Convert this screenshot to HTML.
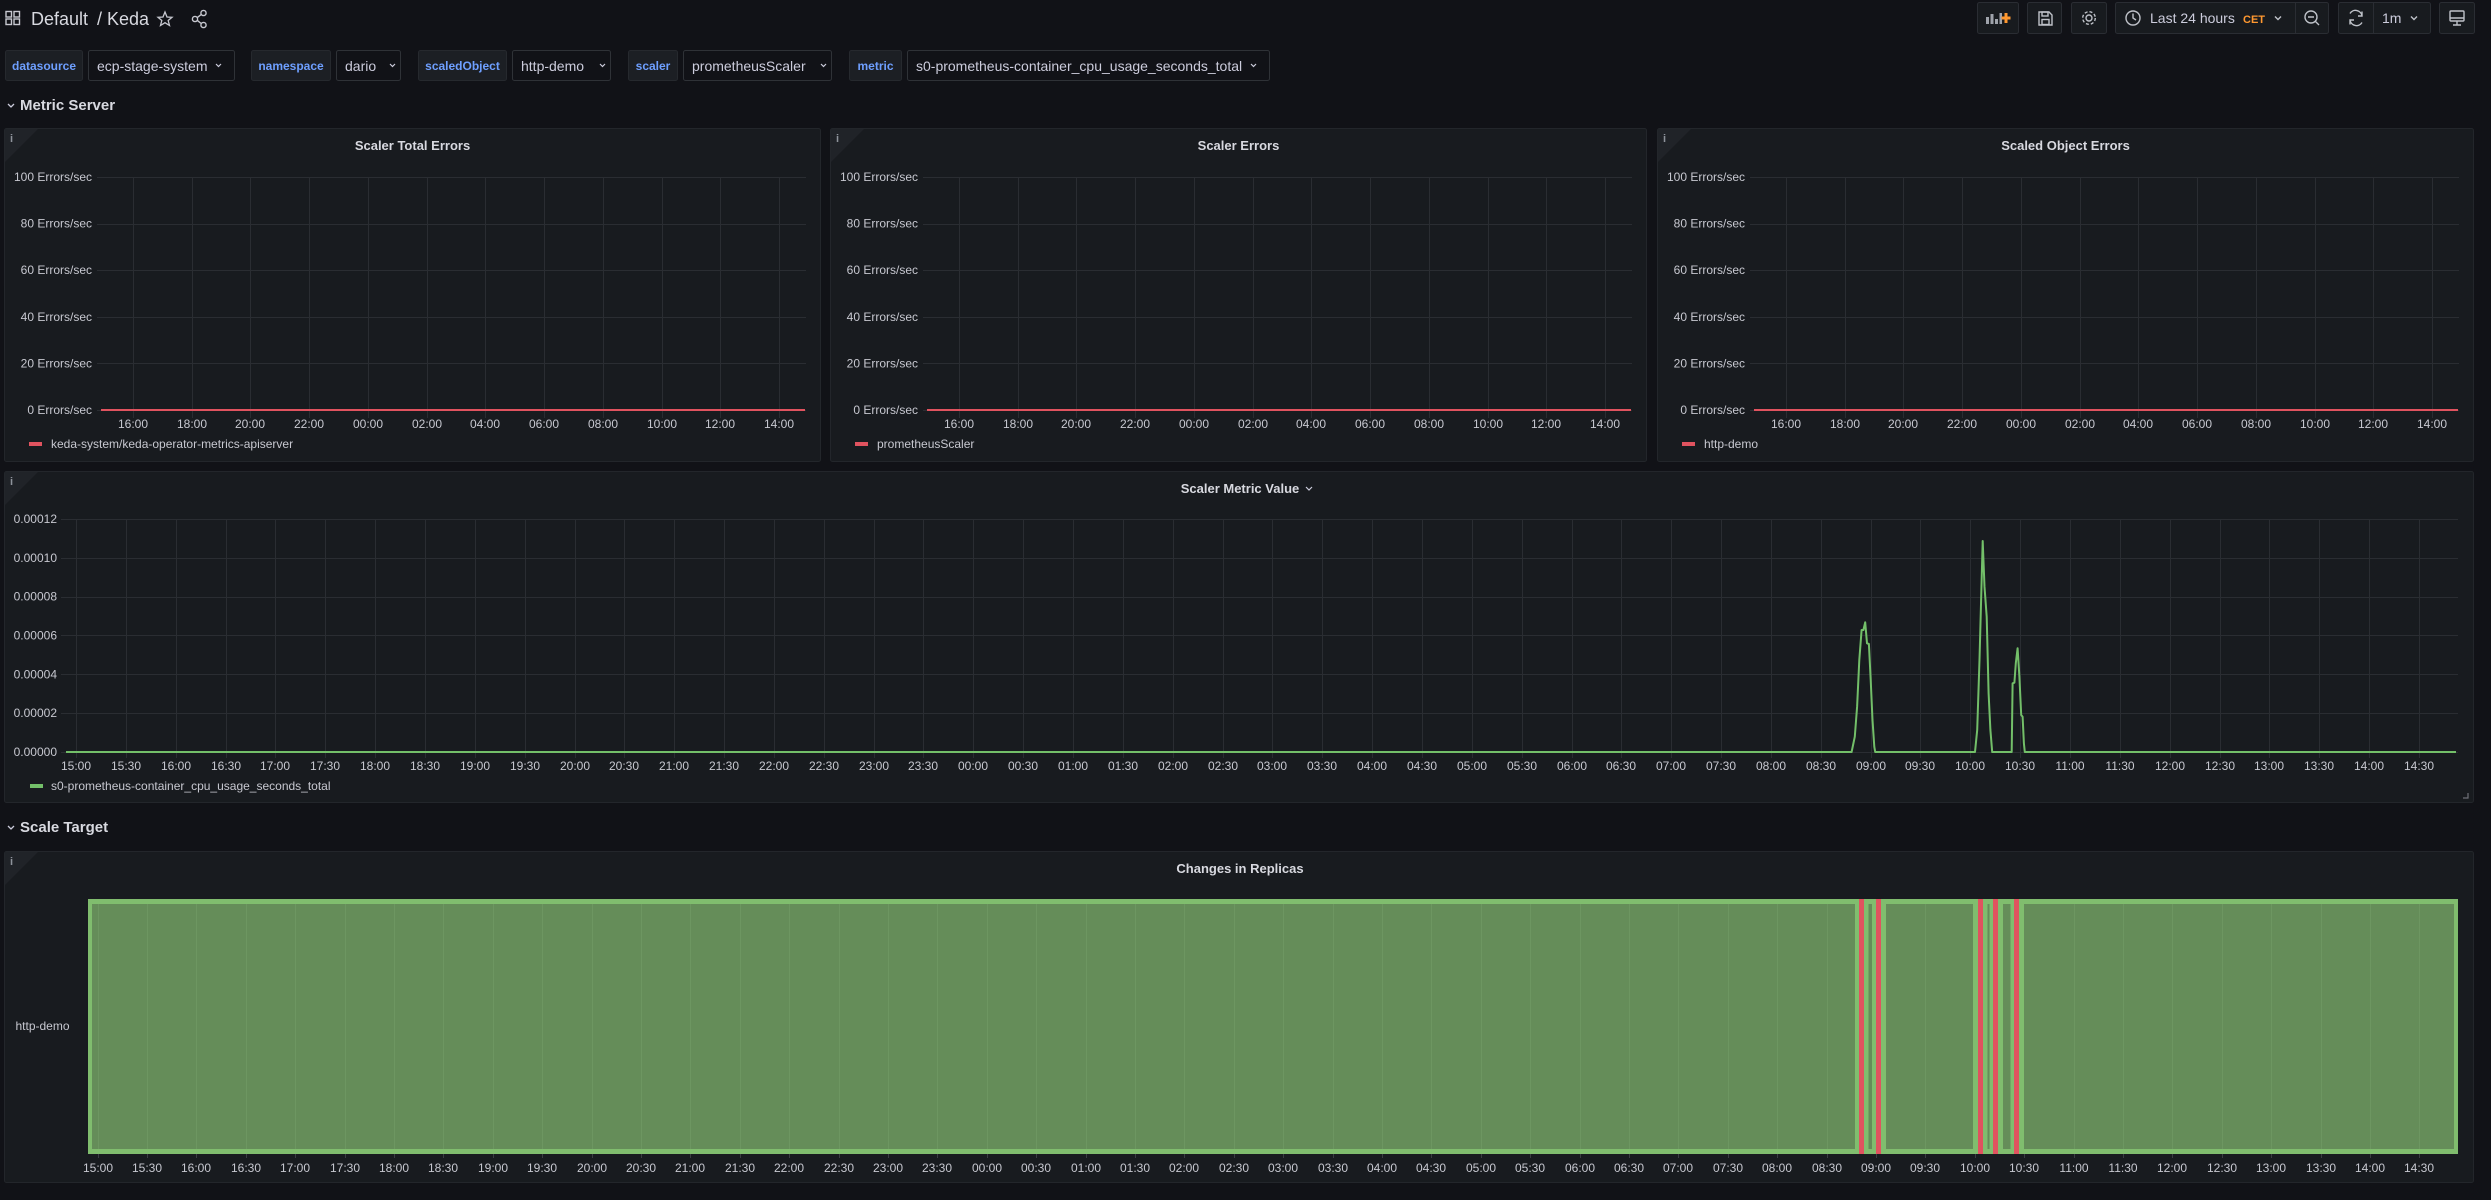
<!DOCTYPE html>
<html><head><meta charset="utf-8"><style>
html,body{margin:0;padding:0;background:#111217;width:2491px;height:1200px;overflow:hidden}
svg{display:block}
text{font-family:"Liberation Sans",sans-serif}
</style></head><body>
<svg width="2491" height="1200" viewBox="0 0 2491 1200" xmlns="http://www.w3.org/2000/svg">
<rect width="2491" height="1200" fill="#111217"/>

<!-- ===== TOP BAR ===== -->
<g fill="none" stroke="#c7c8d0" stroke-width="1.4">
<rect x="6" y="11.5" width="5.5" height="5.5"/><rect x="14" y="11.5" width="5.5" height="5.5"/>
<rect x="6" y="19" width="5.5" height="5.5"/><rect x="14" y="19" width="5.5" height="5.5"/>
</g>
<text x="31" y="25" font-size="18" fill="#d8d9e0">Default</text>
<text x="97" y="25" font-size="18" fill="#d8d9e0">/ Keda</text>
<polygon points="165,12 167,17 172,17.3 168.2,20.5 169.5,25.5 165,22.7 160.5,25.5 161.8,20.5 158,17.3 163,17" fill="none" stroke="#c7c8d0" stroke-width="1.3"/>
<g fill="none" stroke="#c7c8d0" stroke-width="1.4">
<circle cx="203.5" cy="13" r="2.6"/><circle cx="195" cy="19" r="2.6"/><circle cx="203.5" cy="25" r="2.6"/>
<path d="M197.3 17.6L201.2 14.5M197.3 20.4L201.2 23.5"/>
</g>

<!-- right buttons -->
<g fill="#181b1f" stroke="#2a2d33">
<rect x="1977.5" y="2.5" width="41" height="31" rx="2"/>
<rect x="2027.5" y="2.5" width="34" height="31" rx="2"/>
<rect x="2071.5" y="2.5" width="35" height="31" rx="2"/>
<rect x="2115.5" y="2.5" width="213" height="31" rx="2"/>
<rect x="2338.5" y="2.5" width="92" height="31" rx="2"/>
<rect x="2439.5" y="2.5" width="35" height="31" rx="2"/>
</g>
<path d="M2295.5 3V33M2373.5 3V33" stroke="#2a2d33"/>
<g fill="#9fa3ab">
<rect x="1986" y="17" width="3" height="7"/><rect x="1990.5" y="14" width="3" height="10"/><rect x="1995" y="19" width="3" height="5"/><rect x="1999.5" y="13" width="2.5" height="11"/>
</g>
<path d="M2006 13V23M2001.5 18H2010.5" stroke="#ff9830" stroke-width="3"/>
<g fill="none" stroke="#bfc2c9" stroke-width="1.4">
<path d="M2039 12H2049L2052 15V25H2039Z"/><rect x="2042" y="12" width="6" height="4"/><rect x="2042" y="19.5" width="7" height="5"/>
<circle cx="2089" cy="18" r="3"/><circle cx="2089" cy="18" r="6.3" stroke-dasharray="3 2"/>
<circle cx="2133" cy="18" r="7"/><path d="M2133 13.5V18L2136 20"/>
<path d="M2275 16.5l3 3 3-3"/>
<circle cx="2311" cy="17" r="6"/><path d="M2308 17H2314M2315.5 21.5L2319 25"/>
<path d="M2350 13.5A6.5 6.5 0 0 1 2362 16M2362 22.5A6.5 6.5 0 0 1 2350 20M2362 11.5V16H2358M2350 24.5V20H2354"/>
<path d="M2411 16.5l3 3 3-3"/>
<rect x="2450" y="11" width="14" height="10" rx="1"/><path d="M2450 18H2464M2453 25H2461M2457 21V25"/>
</g>
<text x="2150" y="23" font-size="14" fill="#ccccdc">Last 24 hours</text>
<text x="2243" y="23" font-size="11" font-weight="bold" fill="#ff9830">CET</text>
<text x="2382" y="23" font-size="14" fill="#ccccdc">1m</text>

<!-- ===== VARIABLES ROW ===== -->
<g fill="#1c1f24" stroke="#26292e">
<rect x="5.5" y="50.5" width="77" height="30" rx="2"/>
<rect x="251.5" y="50.5" width="79" height="30" rx="2"/>
<rect x="418.5" y="50.5" width="88" height="30" rx="2"/>
<rect x="628.5" y="50.5" width="49" height="30" rx="2"/>
<rect x="849.5" y="50.5" width="52" height="30" rx="2"/>
</g>
<g fill="#111217" stroke="#2f3237">
<rect x="88.5" y="50.5" width="146" height="30" rx="2"/>
<rect x="336.5" y="50.5" width="64" height="30" rx="2"/>
<rect x="512.5" y="50.5" width="98" height="30" rx="2"/>
<rect x="683.5" y="50.5" width="148" height="30" rx="2"/>
<rect x="907.5" y="50.5" width="362" height="30" rx="2"/>
</g>
<g font-size="12" font-weight="bold" fill="#6e9fff" text-anchor="middle">
<text x="44" y="70">datasource</text>
<text x="291" y="70">namespace</text>
<text x="462.5" y="70">scaledObject</text>
<text x="653" y="70">scaler</text>
<text x="875.5" y="70">metric</text>
</g>
<g font-size="14" fill="#ccccdc">
<text x="97" y="71">ecp-stage-system</text>
<text x="345" y="71">dario</text>
<text x="521" y="71">http-demo</text>
<text x="692" y="71">prometheusScaler</text>
<text x="916" y="71">s0-prometheus-container_cpu_usage_seconds_total</text>
</g>
<g fill="none" stroke="#ccccdc" stroke-width="1.2">
<path d="M216 64l2.5 2.5 2.5-2.5M390 64l2.5 2.5 2.5-2.5M600 64l2.5 2.5 2.5-2.5M821 64l2.5 2.5 2.5-2.5M1251 64l2.5 2.5 2.5-2.5"/>
<path d="M8 104l3 3 3-3M8 826l3 3 3-3" stroke-width="1.3"/>
</g>

<!-- section headers -->
<text x="20" y="110" font-size="15" font-weight="bold" fill="#d8d9e0">Metric Server</text>
<text x="20" y="832" font-size="15" font-weight="bold" fill="#d8d9e0">Scale Target</text>

<!-- ===== PANEL 1 ===== -->
<g transform="translate(4,0)">
<rect x="0.5" y="128.5" width="816" height="333" rx="2" fill="#181b1f" stroke="#23262b"/>
<polygon points="1,129 34,129 1,162" fill="#202328"/>
<text x="6" y="142" font-size="11" font-weight="bold" fill="#8e939b">i</text>
<text x="408.5" y="150" text-anchor="middle" font-size="13" font-weight="bold" fill="#d8d9e0">Scaler Total Errors</text>
<path d="M93 177.5H802M93 224.5H802M93 270.5H802M93 317.5H802M93 363.5H802M93 410.5H802M129.5 177V418M188.5 177V418M246.5 177V418M305.5 177V418M364.5 177V418M423.5 177V418M481.5 177V418M540.5 177V418M599.5 177V418M658.5 177V418M716.5 177V418M775.5 177V418" stroke="#2a2d32" fill="none"/>
<g font-size="12" fill="#c7c8d0" text-anchor="end">
<text x="88" y="181">100 Errors/sec</text><text x="88" y="227.6">80 Errors/sec</text><text x="88" y="274.2">60 Errors/sec</text><text x="88" y="320.8">40 Errors/sec</text><text x="88" y="367.4">20 Errors/sec</text><text x="88" y="414">0 Errors/sec</text>
</g>
<g font-size="12" fill="#c7c8d0" text-anchor="middle">
<text x="129" y="428">16:00</text><text x="188" y="428">18:00</text><text x="246" y="428">20:00</text><text x="305" y="428">22:00</text><text x="364" y="428">00:00</text><text x="423" y="428">02:00</text><text x="481" y="428">04:00</text><text x="540" y="428">06:00</text><text x="599" y="428">08:00</text><text x="658" y="428">10:00</text><text x="716" y="428">12:00</text><text x="775" y="428">14:00</text>
</g>
<path d="M97 410H801" stroke="#e0535f" stroke-width="2"/>
<rect x="25" y="442" width="13" height="4" fill="#e0535f"/>
<text x="47" y="448" font-size="12" fill="#c7c8d0">keda-system/keda-operator-metrics-apiserver</text>
</g>

<!-- ===== PANEL 2 ===== -->
<g transform="translate(830,0)">
<rect x="0.5" y="128.5" width="816" height="333" rx="2" fill="#181b1f" stroke="#23262b"/>
<polygon points="1,129 34,129 1,162" fill="#202328"/>
<text x="6" y="142" font-size="11" font-weight="bold" fill="#8e939b">i</text>
<text x="408.5" y="150" text-anchor="middle" font-size="13" font-weight="bold" fill="#d8d9e0">Scaler Errors</text>
<path d="M93 177.5H802M93 224.5H802M93 270.5H802M93 317.5H802M93 363.5H802M93 410.5H802M129.5 177V418M188.5 177V418M246.5 177V418M305.5 177V418M364.5 177V418M423.5 177V418M481.5 177V418M540.5 177V418M599.5 177V418M658.5 177V418M716.5 177V418M775.5 177V418" stroke="#2a2d32" fill="none"/>
<g font-size="12" fill="#c7c8d0" text-anchor="end">
<text x="88" y="181">100 Errors/sec</text><text x="88" y="227.6">80 Errors/sec</text><text x="88" y="274.2">60 Errors/sec</text><text x="88" y="320.8">40 Errors/sec</text><text x="88" y="367.4">20 Errors/sec</text><text x="88" y="414">0 Errors/sec</text>
</g>
<g font-size="12" fill="#c7c8d0" text-anchor="middle">
<text x="129" y="428">16:00</text><text x="188" y="428">18:00</text><text x="246" y="428">20:00</text><text x="305" y="428">22:00</text><text x="364" y="428">00:00</text><text x="423" y="428">02:00</text><text x="481" y="428">04:00</text><text x="540" y="428">06:00</text><text x="599" y="428">08:00</text><text x="658" y="428">10:00</text><text x="716" y="428">12:00</text><text x="775" y="428">14:00</text>
</g>
<path d="M97 410H801" stroke="#e0535f" stroke-width="2"/>
<rect x="25" y="442" width="13" height="4" fill="#e0535f"/>
<text x="47" y="448" font-size="12" fill="#c7c8d0">prometheusScaler</text>
</g>

<!-- ===== PANEL 3 ===== -->
<g transform="translate(1657,0)">
<rect x="0.5" y="128.5" width="816" height="333" rx="2" fill="#181b1f" stroke="#23262b"/>
<polygon points="1,129 34,129 1,162" fill="#202328"/>
<text x="6" y="142" font-size="11" font-weight="bold" fill="#8e939b">i</text>
<text x="408.5" y="150" text-anchor="middle" font-size="13" font-weight="bold" fill="#d8d9e0">Scaled Object Errors</text>
<path d="M93 177.5H802M93 224.5H802M93 270.5H802M93 317.5H802M93 363.5H802M93 410.5H802M129.5 177V418M188.5 177V418M246.5 177V418M305.5 177V418M364.5 177V418M423.5 177V418M481.5 177V418M540.5 177V418M599.5 177V418M658.5 177V418M716.5 177V418M775.5 177V418" stroke="#2a2d32" fill="none"/>
<g font-size="12" fill="#c7c8d0" text-anchor="end">
<text x="88" y="181">100 Errors/sec</text><text x="88" y="227.6">80 Errors/sec</text><text x="88" y="274.2">60 Errors/sec</text><text x="88" y="320.8">40 Errors/sec</text><text x="88" y="367.4">20 Errors/sec</text><text x="88" y="414">0 Errors/sec</text>
</g>
<g font-size="12" fill="#c7c8d0" text-anchor="middle">
<text x="129" y="428">16:00</text><text x="188" y="428">18:00</text><text x="246" y="428">20:00</text><text x="305" y="428">22:00</text><text x="364" y="428">00:00</text><text x="423" y="428">02:00</text><text x="481" y="428">04:00</text><text x="540" y="428">06:00</text><text x="599" y="428">08:00</text><text x="658" y="428">10:00</text><text x="716" y="428">12:00</text><text x="775" y="428">14:00</text>
</g>
<path d="M97 410H801" stroke="#e0535f" stroke-width="2"/>
<rect x="25" y="442" width="13" height="4" fill="#e0535f"/>
<text x="47" y="448" font-size="12" fill="#c7c8d0">http-demo</text>
</g>

<!-- ===== MIDDLE PANEL ===== -->
<rect x="4.5" y="471.5" width="2469" height="331" rx="2" fill="#181b1f" stroke="#23262b"/>
<polygon points="5,472 38,472 5,505" fill="#202328"/>
<text x="10" y="485" font-size="11" font-weight="bold" fill="#8e939b">i</text>
<text x="1240" y="493" text-anchor="middle" font-size="13" font-weight="bold" fill="#d8d9e0">Scaler Metric Value</text>
<path d="M1306 487l3 3 3-3" fill="none" stroke="#ccccdc" stroke-width="1.2"/>
<path d="M61 519.5H2458M61 558.5H2458M61 597.5H2458M61 635.5H2458M61 674.5H2458M61 713.5H2458M61 752.5H2458" stroke="#2a2d32" fill="none"/>
<path d="M76.5 519V758M126.5 519V758M176.5 519V758M226.5 519V758M275.5 519V758M325.5 519V758M375.5 519V758M425.5 519V758M475.5 519V758M525.5 519V758M575.5 519V758M624.5 519V758M674.5 519V758M724.5 519V758M774.5 519V758M824.5 519V758M874.5 519V758M923.5 519V758M973.5 519V758M1023.5 519V758M1073.5 519V758M1123.5 519V758M1173.5 519V758M1223.5 519V758M1272.5 519V758M1322.5 519V758M1372.5 519V758M1422.5 519V758M1472.5 519V758M1522.5 519V758M1572.5 519V758M1621.5 519V758M1671.5 519V758M1721.5 519V758M1771.5 519V758M1821.5 519V758M1871.5 519V758M1920.5 519V758M1970.5 519V758M2020.5 519V758M2070.5 519V758M2120.5 519V758M2170.5 519V758M2220.5 519V758M2269.5 519V758M2319.5 519V758M2369.5 519V758M2419.5 519V758" stroke="#2a2d32" fill="none"/>
<g font-size="12" fill="#c7c8d0" text-anchor="end">
<text x="57" y="523">0.00012</text><text x="57" y="561.8">0.00010</text><text x="57" y="600.7">0.00008</text><text x="57" y="639.5">0.00006</text><text x="57" y="678.3">0.00004</text><text x="57" y="717.2">0.00002</text><text x="57" y="756">0.00000</text>
</g>
<g font-size="12" fill="#c7c8d0" text-anchor="middle">
<text x="76" y="770">15:00</text><text x="126" y="770">15:30</text><text x="176" y="770">16:00</text><text x="226" y="770">16:30</text><text x="275" y="770">17:00</text><text x="325" y="770">17:30</text><text x="375" y="770">18:00</text><text x="425" y="770">18:30</text><text x="475" y="770">19:00</text><text x="525" y="770">19:30</text><text x="575" y="770">20:00</text><text x="624" y="770">20:30</text><text x="674" y="770">21:00</text><text x="724" y="770">21:30</text><text x="774" y="770">22:00</text><text x="824" y="770">22:30</text><text x="874" y="770">23:00</text><text x="923" y="770">23:30</text><text x="973" y="770">00:00</text><text x="1023" y="770">00:30</text><text x="1073" y="770">01:00</text><text x="1123" y="770">01:30</text><text x="1173" y="770">02:00</text><text x="1223" y="770">02:30</text><text x="1272" y="770">03:00</text><text x="1322" y="770">03:30</text><text x="1372" y="770">04:00</text><text x="1422" y="770">04:30</text><text x="1472" y="770">05:00</text><text x="1522" y="770">05:30</text><text x="1572" y="770">06:00</text><text x="1621" y="770">06:30</text><text x="1671" y="770">07:00</text><text x="1721" y="770">07:30</text><text x="1771" y="770">08:00</text><text x="1821" y="770">08:30</text><text x="1871" y="770">09:00</text><text x="1920" y="770">09:30</text><text x="1970" y="770">10:00</text><text x="2020" y="770">10:30</text><text x="2070" y="770">11:00</text><text x="2120" y="770">11:30</text><text x="2170" y="770">12:00</text><text x="2220" y="770">12:30</text><text x="2269" y="770">13:00</text><text x="2319" y="770">13:30</text><text x="2369" y="770">14:00</text><text x="2419" y="770">14:30</text>
</g>
<path d="M66 752L1851.6 752L1854.8 736.7L1857.1 706.7L1859.3 660L1861.6 630L1863.4 630L1865.2 622.3L1867 643.3L1868.9 644L1870.7 680L1872.5 720L1874.3 746.7L1875.2 752L1975 752L1977.2 730L1979.5 660L1981.3 593L1982.7 541L1984.5 586.7L1986.7 616.7L1988.6 693.3L1990.4 730L1992.2 752L2011.7 752L2012.6 683.3L2014.4 682.7L2015.8 663.3L2017.6 648.3L2019.4 676.7L2021.2 715L2022.6 716.7L2023.9 743.3L2024.8 752L2456 752" fill="none" stroke="#73bf69" stroke-width="2" stroke-linejoin="round"/>
<rect x="30" y="784" width="13" height="4" fill="#73bf69"/>
<text x="51" y="790" font-size="12" fill="#c7c8d0">s0-prometheus-container_cpu_usage_seconds_total</text>
<path d="M2463 798H2468V793" fill="none" stroke="#6e7178" stroke-width="1.2"/>

<!-- ===== BOTTOM PANEL ===== -->
<rect x="4.5" y="851.5" width="2469" height="331" rx="2" fill="#181b1f" stroke="#23262b"/>
<polygon points="5,852 38,852 5,885" fill="#202328"/>
<text x="10" y="865" font-size="11" font-weight="bold" fill="#8e939b">i</text>
<text x="1240" y="873" text-anchor="middle" font-size="13" font-weight="bold" fill="#d8d9e0">Changes in Replicas</text>
<text x="15.5" y="1030" font-size="12" fill="#c7c8d0">http-demo</text>

<!-- state segments: outer border color then inner fill -->
<g>
<rect x="88" y="899" width="1771" height="255" fill="#80bd6e"/>
<rect x="92" y="904" width="1763" height="245" fill="#658d59"/>
<rect x="1859" y="899" width="5" height="255" fill="#e0535f"/>
<rect x="1864" y="899" width="12" height="255" fill="#80bd6e"/>
<rect x="1868.5" y="904" width="3.5" height="245" fill="#658d59"/>
<rect x="1876" y="899" width="5" height="255" fill="#e0535f"/>
<rect x="1881" y="899" width="97" height="255" fill="#80bd6e"/>
<rect x="1886" y="904" width="87" height="245" fill="#658d59"/>
<rect x="1978" y="899" width="5" height="255" fill="#e0535f"/>
<rect x="1983" y="899" width="10" height="255" fill="#80bd6e"/>
<rect x="1987.5" y="904" width="2" height="245" fill="#658d59"/>
<rect x="1993" y="899" width="5" height="255" fill="#e0535f"/>
<rect x="1998" y="899" width="16" height="255" fill="#80bd6e"/>
<rect x="2003" y="904" width="7.5" height="245" fill="#658d59"/>
<rect x="2014" y="899" width="5" height="255" fill="#e0535f"/>
<rect x="2019" y="899" width="439" height="255" fill="#80bd6e"/>
<rect x="2024" y="904" width="430" height="245" fill="#658d59"/>
</g>
<path d="M98.5 904V1149M147.5 904V1149M196.5 904V1149M246.5 904V1149M295.5 904V1149M345.5 904V1149M394.5 904V1149M443.5 904V1149M493.5 904V1149M542.5 904V1149M592.5 904V1149M641.5 904V1149M690.5 904V1149M740.5 904V1149M789.5 904V1149M839.5 904V1149M888.5 904V1149M937.5 904V1149M987.5 904V1149M1036.5 904V1149M1086.5 904V1149M1135.5 904V1149M1184.5 904V1149M1234.5 904V1149M1283.5 904V1149M1333.5 904V1149M1382.5 904V1149M1431.5 904V1149M1481.5 904V1149M1530.5 904V1149M1580.5 904V1149M1629.5 904V1149M1678.5 904V1149M1728.5 904V1149M1777.5 904V1149M1827.5 904V1149M1925.5 904V1149M2074.5 904V1149M2123.5 904V1149M2172.5 904V1149M2222.5 904V1149M2271.5 904V1149M2321.5 904V1149M2370.5 904V1149M2419.5 904V1149" stroke="#6d9661" fill="none"/>
<path d="M98.5 1154V1158M147.5 1154V1158M196.5 1154V1158M246.5 1154V1158M295.5 1154V1158M345.5 1154V1158M394.5 1154V1158M443.5 1154V1158M493.5 1154V1158M542.5 1154V1158M592.5 1154V1158M641.5 1154V1158M690.5 1154V1158M740.5 1154V1158M789.5 1154V1158M839.5 1154V1158M888.5 1154V1158M937.5 1154V1158M987.5 1154V1158M1036.5 1154V1158M1086.5 1154V1158M1135.5 1154V1158M1184.5 1154V1158M1234.5 1154V1158M1283.5 1154V1158M1333.5 1154V1158M1382.5 1154V1158M1431.5 1154V1158M1481.5 1154V1158M1530.5 1154V1158M1580.5 1154V1158M1629.5 1154V1158M1678.5 1154V1158M1728.5 1154V1158M1777.5 1154V1158M1827.5 1154V1158M1876.5 1154V1158M1925.5 1154V1158M1975.5 1154V1158M2024.5 1154V1158M2074.5 1154V1158M2123.5 1154V1158M2172.5 1154V1158M2222.5 1154V1158M2271.5 1154V1158M2321.5 1154V1158M2370.5 1154V1158M2419.5 1154V1158" stroke="#3a3d42" fill="none"/>
<g font-size="12" fill="#c7c8d0" text-anchor="middle">
<text x="98" y="1172">15:00</text><text x="147" y="1172">15:30</text><text x="196" y="1172">16:00</text><text x="246" y="1172">16:30</text><text x="295" y="1172">17:00</text><text x="345" y="1172">17:30</text><text x="394" y="1172">18:00</text><text x="443" y="1172">18:30</text><text x="493" y="1172">19:00</text><text x="542" y="1172">19:30</text><text x="592" y="1172">20:00</text><text x="641" y="1172">20:30</text><text x="690" y="1172">21:00</text><text x="740" y="1172">21:30</text><text x="789" y="1172">22:00</text><text x="839" y="1172">22:30</text><text x="888" y="1172">23:00</text><text x="937" y="1172">23:30</text><text x="987" y="1172">00:00</text><text x="1036" y="1172">00:30</text><text x="1086" y="1172">01:00</text><text x="1135" y="1172">01:30</text><text x="1184" y="1172">02:00</text><text x="1234" y="1172">02:30</text><text x="1283" y="1172">03:00</text><text x="1333" y="1172">03:30</text><text x="1382" y="1172">04:00</text><text x="1431" y="1172">04:30</text><text x="1481" y="1172">05:00</text><text x="1530" y="1172">05:30</text><text x="1580" y="1172">06:00</text><text x="1629" y="1172">06:30</text><text x="1678" y="1172">07:00</text><text x="1728" y="1172">07:30</text><text x="1777" y="1172">08:00</text><text x="1827" y="1172">08:30</text><text x="1876" y="1172">09:00</text><text x="1925" y="1172">09:30</text><text x="1975" y="1172">10:00</text><text x="2024" y="1172">10:30</text><text x="2074" y="1172">11:00</text><text x="2123" y="1172">11:30</text><text x="2172" y="1172">12:00</text><text x="2222" y="1172">12:30</text><text x="2271" y="1172">13:00</text><text x="2321" y="1172">13:30</text><text x="2370" y="1172">14:00</text><text x="2419" y="1172">14:30</text>
</g>
</svg>
</body></html>
